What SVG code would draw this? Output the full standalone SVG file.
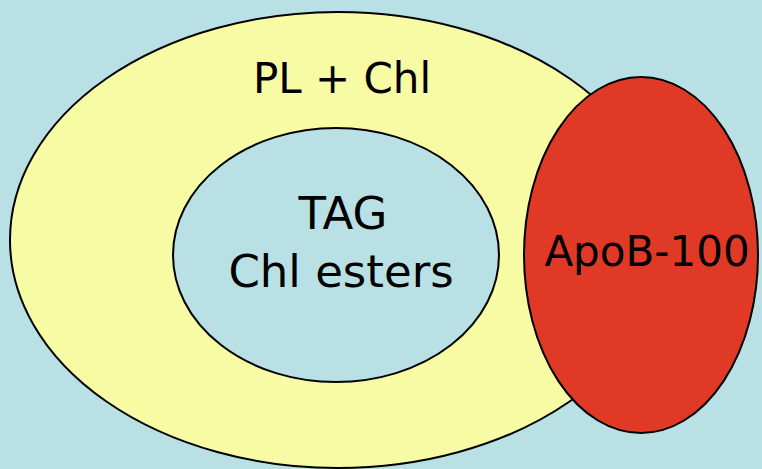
<svg xmlns="http://www.w3.org/2000/svg" width="762" height="469" viewBox="0 0 762 469">
<style>
.shape{stroke:#000;stroke-width:2}
.lbl{font-family:"DejaVu Sans","Liberation Sans",sans-serif;font-size:42px;fill:#000;text-anchor:middle}
.big{font-size:45px}
</style>
<rect width="762" height="469" fill="#b9e0e4"/>
<g id="outer">
<ellipse class="shape" cx="338" cy="240" rx="328" ry="228" fill="#f7fba3"/>
<text class="lbl" x="342" y="93">PL + Chl</text>
</g>
<g id="core">
<ellipse class="shape" cx="336" cy="255" rx="163" ry="127" fill="#b9e0e4"/>
<text class="lbl big" x="343" y="229">TAG</text>
<text class="lbl big" x="341" y="287">Chl esters</text>
</g>
<g id="apob">
<ellipse class="shape" cx="641" cy="255" rx="117" ry="178" fill="#e03a26"/>
<text class="lbl" x="647" y="266">ApoB-100</text>
</g>
<g id="connectors"/>
</svg>
